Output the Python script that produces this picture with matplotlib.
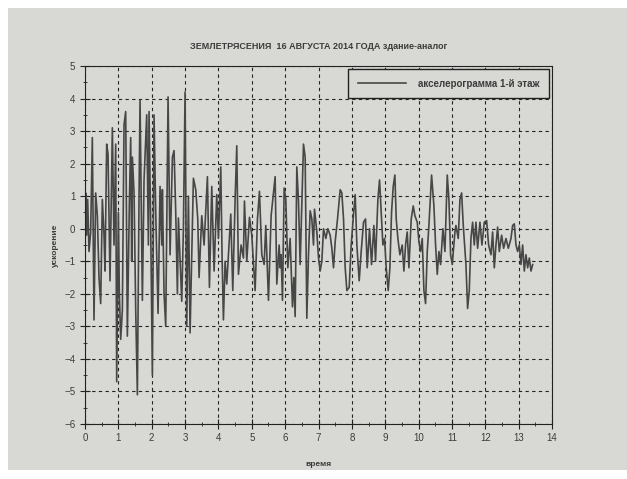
import matplotlib
matplotlib.use('Agg')
import matplotlib.pyplot as plt
from matplotlib.patches import Rectangle
from matplotlib.ticker import MultipleLocator

plt.rcParams['font.family'] = ['Liberation Sans', 'DejaVu Sans']

# values (time, acceleration)
t_vals = [
    0.00, 0.02, 0.05, 0.08, 0.12, 0.17, 0.22, 0.27, 0.32, 0.37, 0.42, 0.47,
    0.52, 0.57, 0.60, 0.65, 0.69, 0.75, 0.82, 0.87, 0.92, 0.95, 1.00, 1.03,
    1.07, 1.12, 1.17, 1.22, 1.27, 1.33, 1.37, 1.40, 1.42, 1.47, 1.52, 1.57,
    1.62, 1.65, 1.72, 1.77, 1.85, 1.90, 1.92, 1.97, 2.02, 2.07, 2.12, 2.19,
    2.25, 2.30, 2.32, 2.37, 2.42, 2.49, 2.55, 2.62, 2.67, 2.72, 2.77, 2.80,
    2.90, 2.95, 3.00, 3.05, 3.10, 3.15, 3.25, 3.32, 3.38, 3.42, 3.50, 3.57,
    3.67, 3.73, 3.80, 3.87, 3.95, 4.00, 4.07, 4.11, 4.15, 4.20, 4.25, 4.30,
    4.37, 4.43, 4.50, 4.55, 4.60, 4.68, 4.75, 4.78, 4.85, 4.93, 5.00, 5.10,
    5.17, 5.23, 5.30, 5.37, 5.42, 5.50, 5.58, 5.63, 5.70, 5.75, 5.82, 5.85,
    5.88, 5.92, 5.97, 6.02, 6.08, 6.15, 6.22, 6.26, 6.30, 6.35, 6.40, 6.45,
    6.50, 6.55, 6.60, 6.65, 6.70, 6.75, 6.80, 6.85, 6.88, 6.95, 7.00, 7.05,
    7.10, 7.15, 7.22, 7.28, 7.35, 7.40, 7.45, 7.50, 7.57, 7.65, 7.70, 7.75,
    7.80, 7.85, 7.92, 7.98, 8.05, 8.10, 8.15, 8.22, 8.28, 8.35, 8.41, 8.46,
    8.53, 8.59, 8.66, 8.71, 8.78, 8.83, 8.88, 8.93, 8.98, 9.03, 9.09, 9.14,
    9.19, 9.24, 9.29, 9.33, 9.38, 9.44, 9.51, 9.56, 9.61, 9.66, 9.71, 9.78,
    9.84, 9.89, 9.96, 10.01, 10.06, 10.11, 10.16, 10.21, 10.26, 10.31, 10.39,
    10.46, 10.51, 10.56, 10.61, 10.66, 10.73, 10.79, 10.86, 10.91, 10.96,
    11.01, 11.09, 11.12, 11.19, 11.24, 11.29, 11.34, 11.42, 11.47, 11.52,
    11.57, 11.62, 11.67, 11.72, 11.77, 11.84, 11.90, 11.97, 12.04, 12.10,
    12.17, 12.22, 12.27, 12.32, 12.37, 12.42, 12.49, 12.55, 12.62, 12.69,
    12.77, 12.82, 12.87, 12.92, 12.97, 13.02, 13.07, 13.12, 13.17, 13.22,
    13.27, 13.32, 13.37, 13.42,
]
acc_vals = [
    0.3, 1.1, -0.2, 0.9, -0.7, -0.1, 2.8, -2.8, 1.1, 0.4, -1.5, -2.3,
    0.9, -0.2, -1.3, 2.6, 2.3, -1.6, 3.1, -0.5, 2.6, -4.7, 0.5, -2.0,
    -3.4, -2.5, 3.2, 3.6, -3.3, 0.8, 2.8, -1.0, 2.2, 1.1, -2.5, -5.1,
    1.0, 3.95, -2.2, 1.5, 3.5, -0.5, 3.6, 0.0, -4.5, 3.5, 0.5, -2.6,
    1.3, -0.5, 1.2, -2.0, -3.0, 4.05, -0.8, 2.2, 2.4, 0.5, -2.0, 0.33,
    -2.23, 0.0, 4.2, -3.0, 1.0, -3.2, 1.55, 1.2, 0.3, -1.5, 0.4, -0.5,
    1.6, -1.8, 1.3, -1.3, 1.05, -0.3, 1.9, -0.9, -2.8, -1.0, -1.7, -0.8,
    0.45, -1.9, 0.9, 2.55, -1.4, -0.5, -0.9, 0.85, -1.0, 0.35, -0.2, -1.9,
    0.3, 1.15, -0.8, -1.1, 0.1, -2.2, 0.4, 0.9, 1.6, -1.7, -0.5, -1.2,
    -0.8, -2.2, 1.25, 0.9, -1.2, -0.3, -2.4, -1.5, -2.7, 1.9, 0.85, -1.1,
    0.7, 2.6, 2.2, -2.75, -0.8, 0.55, 0.3, -0.5, 0.6, -0.1, -0.9, -1.3,
    -1.0, 0.0, -0.3, 0.0, -0.2, -0.6, -1.2, -0.4, 0.3, 1.2, 1.1, 0.3,
    -1.2, -1.9, -1.8, -0.5, 0.45, 1.05, -0.5, -1.6, -0.7, 0.2, 0.3, -1.2,
    0.0, -1.1, 0.1, -1.0, 0.9, 1.5, 0.5, -0.5, -0.3, -1.2, -1.9, -1.2,
    0.5, 1.3, 1.65, 0.3, -0.3, -0.8, -0.5, -1.3, -0.5, -0.1, -1.2, 0.3,
    0.7, 0.4, 0.2, -0.4, -0.7, -0.3, -1.9, -2.3, -0.7, 0.1, 1.65,
    0.7, -0.5, -1.4, -0.7, -1.1, 0.0, -0.7, 1.65, 0.9, -0.8,
    -1.1, -0.1, 0.1, -0.3, 0.9, 1.1, 0.1, -1.1, -2.45, -1.9,
    -0.3, 0.2, -0.5, 0.2, -0.6, 0.2, -0.5, 0.2, 0.25, -0.5,
    -0.8, -0.1, -1.2, -0.5, 0.05, -0.7, -0.2, -0.6, -0.3, -0.6,
    -0.3, 0.1, 0.15, -0.5, -0.7, -0.5, -1.1, -0.5, -1.3, -0.8,
    -1.2, -0.9, -1.3, -1.1,
]

x_ticks = list(range(0, 15))
y_ticks = list(range(-6, 6))

title = 'ЗЕМЛЕТРЯСЕНИЯ  16 АВГУСТА 2014 ГОДА здание-аналог'
legend_label = 'акселерограмма 1-й этаж'

bg = '#d8d8d4'
txt = '#3c3c3c'

fig = plt.figure(figsize=(6.27, 4.79), dpi=100, facecolor='white')
fig.patches.append(Rectangle((8 / 627, 9 / 479), 1 - 8 / 627, 1 - 17 / 479,
                             transform=fig.transFigure, facecolor=bg,
                             edgecolor='none', zorder=-10))

ax = fig.add_axes([85 / 627, 1 - 424 / 479, 467 / 627, 358 / 479])
ax.set_facecolor(bg)

ax.plot(t_vals, acc_vals, color='#474747', linewidth=1.2, label=legend_label)

ax.set_xlim(0, 14)
ax.set_ylim(-6, 5)
ax.set_xticks(x_ticks)
ax.set_yticks(y_ticks)
ax.xaxis.set_minor_locator(MultipleLocator(0.5))
ax.yaxis.set_minor_locator(MultipleLocator(0.5))
ax.tick_params(which='major', direction='inout', length=7, width=0.8,
               labelsize=7, labelcolor=txt, color='#222222')
ax.tick_params(which='minor', direction='inout', length=3, width=0.6,
               color='#222222')
ax.tick_params(axis='x', pad=3)

ax.grid(True, which='major', color='#222222', linestyle=(0, (3, 3)),
        linewidth=0.8)

for side in ['left', 'bottom', 'right', 'top']:
    ax.spines[side].set_color('#222222')
    ax.spines[side].set_linewidth(0.8)

ax.set_title(title, fontsize=6.5, fontweight='bold', color=txt, pad=12)
ax.set_xlabel('время', fontsize=6, fontweight='bold', color=txt, labelpad=13)
ax.set_ylabel('ускорение', fontsize=6, fontweight='bold', color=txt,
              labelpad=4)

leg = ax.legend(loc='upper right', fancybox=False,
                framealpha=1, facecolor=bg, edgecolor='#222222',
                handlelength=5.0, handletextpad=1.2, borderpad=1.0,
                borderaxespad=0.3,
                prop={'weight': 'bold', 'size': 7})
leg.get_frame().set_linewidth(1.0)
for t in leg.get_texts():
    t.set_color(txt)

plt.savefig('out.png', dpi=100, facecolor=fig.get_facecolor())
